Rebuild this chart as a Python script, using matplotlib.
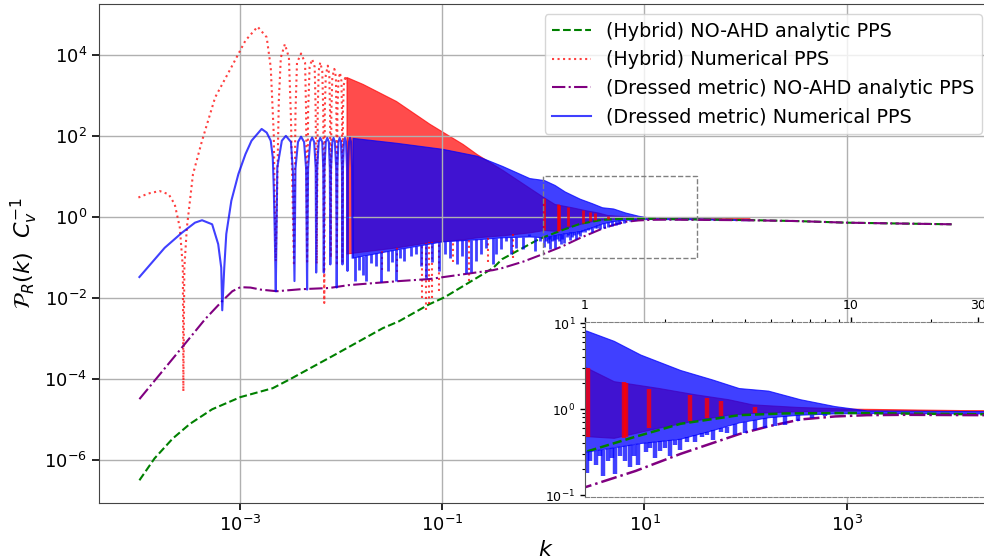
import numpy as np
import matplotlib.pyplot as plt
from matplotlib.patches import Rectangle
from matplotlib.ticker import NullLocator, LogLocator, FixedFormatter

# all values are log10(k), log10(P)

# (Hybrid) NO-AHD analytic PPS
green_logk = [-4.0, -3.85, -3.67, -3.5, -3.28, -3.0, -2.68, -2.51, -2.09, -1.59, -1.43, -1.13, -0.98,
              -0.5, -0.41, -0.07, 0.0, 0.18, 0.36, 0.58, 0.75, 1.0, 1.5, 2.0, 2.5, 3.0, 3.5, 4.04]
green_logp = [-6.49, -5.95, -5.46, -5.1, -4.74, -4.44, -4.22, -4.0, -3.43, -2.74, -2.57, -2.15, -1.98,
              -1.26, -1.04, -0.58, -0.5, -0.33, -0.17, -0.07, -0.05, -0.045, -0.06, -0.075, -0.1, -0.14, -0.16, -0.18]

# (Dressed metric) NO-AHD analytic PPS
purple_logk = [-4.0, -3.57, -3.35, -3.18, -3.08, -3.0, -2.9, -2.8, -2.64, -2.4, -2.12, -1.93, -1.43, -1.13,
               -0.5, -0.41, -0.2, 0.0, 0.19, 0.36, 0.58, 0.69, 0.81, 0.94, 1.06, 1.2, 1.5, 2.0, 2.5, 3.0, 3.5, 4.04]
purple_logp = [-4.49, -3.19, -2.52, -2.07, -1.83, -1.73, -1.74, -1.79, -1.83, -1.78, -1.75, -1.68, -1.58, -1.53,
               -1.31, -1.26, -1.1, -0.91, -0.72, -0.52, -0.29, -0.2, -0.12, -0.085, -0.07, -0.066, -0.07, -0.08, -0.1, -0.14, -0.16, -0.18]

# (Hybrid) Numerical PPS: resolved lobes at low k
red_lobe_logk = [-4.01, -3.91, -3.80, -3.71, -3.65, -3.60, -3.57, -3.565, -3.555, -3.53, -3.47, -3.38, -3.25,
                 -3.09, -2.95, -2.83, -2.74, -2.70, -2.67, -2.66, -2.65,
                 -2.62, -2.60, -2.56, -2.52, -2.50, -2.47,
                 -2.455, -2.44, -2.40, -2.36, -2.35, -2.34,
                 -2.33, -2.315, -2.29, -2.265, -2.255, -2.245,
                 -2.235, -2.225, -2.21, -2.19, -2.18, -2.17,
                 -2.165, -2.155, -2.135, -2.12, -2.113, -2.105,
                 -2.10, -2.09, -2.07, -2.055, -2.05, -2.045,
                 -2.04, -2.03, -2.015, -2.0, -1.995, -1.99,
                 -1.985, -1.975, -1.96, -1.95]
red_lobe_logp = [0.48, 0.58, 0.64, 0.56, 0.31, -0.26, -1.25, -4.3, -1.25, -0.26, 1.05, 1.88, 2.95,
                 3.69, 4.35, 4.69, 4.43, 3.69, 2.04, 0.40, -1.09,
                 2.86, 3.93, 4.26, 3.93, 2.45, -1.2,
                 2.6, 3.8, 4.03, 3.8, 2.6, -1.1,
                 2.6, 3.7, 3.89, 3.7, 2.6, -1.15,
                 2.6, 3.6, 3.81, 3.6, 2.6, -2.12,
                 2.6, 3.5, 3.73, 3.5, 2.6, -1.0,
                 2.6, 3.45, 3.65, 3.45, 2.6, -1.2,
                 2.6, 3.35, 3.56, 3.35, 2.6, -1.1,
                 2.6, 3.3, 3.48, 3.3]
# dense part: upper / lower edge of the red band
red_band_logk = [-1.95, -1.79, -1.46, -1.13, -0.80, -0.66, -0.40, -0.14, 0.006, 0.11, 0.28, 0.41, 0.54, 0.63, 0.8, 1.0, 1.5, 2.04]
red_band_hi = [3.45, 3.28, 2.86, 2.30, 1.80, 1.55, 1.15, 0.72, 0.48, 0.32, 0.24, 0.17, 0.11, 0.05, 0.02, 0.0, -0.02, -0.03]
red_band_lo = [-0.9, -0.85, -0.75, -0.62, -0.55, -0.5, -0.45, -0.38, -0.32, -0.34, -0.22, -0.14, -0.07, -0.05, -0.03, -0.02, -0.025, -0.04]
red_spike_logk = [-1.60, -1.45, -1.20, -1.16, -1.13, -1.10, -1.03, -0.90, -0.74, -0.55, -0.30]
red_spike_logp = [-1.3, -1.35, -2.0, -2.3, -2.15, -2.0, -1.83, -1.1, -1.58, -1.1, -1.0]
# red streaks showing through gaps of the blue band
red_strip_logk = [0.010, 0.145, 0.155, 0.242, 0.395, 0.457, 0.51, 0.64]
red_strip_hi = [0.48, 0.32, 0.30, 0.24, 0.17, 0.13, 0.10, 0.03]
red_strip_lo = [-0.32, -0.34, -0.33, -0.22, -0.14, -0.10, -0.08, -0.05]

# (Dressed metric) Numerical PPS: resolved lobes at low k
blue_lobe_logk = [-4.0, -3.75, -3.58, -3.45, -3.38, -3.28, -3.22, -3.19, -3.18, -3.16, -3.14, -3.09, -3.02,
                  -2.95, -2.89, -2.79, -2.74, -2.70, -2.68, -2.67, -2.66, -2.65,
                  -2.635, -2.59, -2.55, -2.50, -2.48, -2.465,
                  -2.455, -2.43, -2.40, -2.37, -2.35, -2.34,
                  -2.33, -2.31, -2.29, -2.27, -2.255, -2.25,
                  -2.24, -2.225, -2.21, -2.19, -2.18, -2.175,
                  -2.168, -2.155, -2.14, -2.125, -2.115, -2.11,
                  -2.103, -2.09, -2.078, -2.065, -2.052, -2.047,
                  -2.04, -2.03, -2.018, -2.005, -1.995, -1.99,
                  -1.985, -1.975, -1.965, -1.955, -1.945, -1.94,
                  -1.935, -1.925, -1.915, -1.905, -1.895, -1.89]
blue_lobe_logp = [-1.48, -0.76, -0.39, -0.14, -0.08, -0.18, -0.67, -1.25, -2.3, -1.25, -0.42, 0.40, 1.06,
                  1.55, 1.88, 2.17, 2.08, 1.88, 1.47, 0.72, -0.43, -1.83,
                  1.22, 1.88, 2.0, 1.85, 1.1, -1.58,
                  1.2, 1.85, 1.98, 1.85, 1.2, -1.79,
                  1.2, 1.85, 1.96, 1.85, 1.2, -1.37,
                  1.2, 1.85, 1.95, 1.85, 1.2, -1.37,
                  1.2, 1.85, 1.95, 1.85, 1.2, -1.17,
                  1.2, 1.85, 1.95, 1.85, 1.2, -1.74,
                  1.2, 1.85, 1.95, 1.85, 1.2, -1.17,
                  1.2, 1.85, 1.95, 1.85, 1.2, -1.33,
                  1.2, 1.85, 1.95, 1.85, 1.2, -1.0]
blue_band_logk = [-1.89, -1.46, -1.0, -0.66, -0.41, -0.14, 0.006, 0.11, 0.21, 0.36, 0.48, 0.58, 0.69, 0.81, 0.94, 1.06, 1.5, 2.04]
blue_band_hi = [1.95, 1.83, 1.68, 1.51, 1.26, 0.96, 0.91, 0.79, 0.63, 0.45, 0.34, 0.24, 0.21, 0.11, 0.03, -0.02, -0.03, -0.06]
blue_band_lo = [-1.0, -0.8, -0.6, -0.55, -0.5, -0.48, -0.5, -0.45, -0.4, -0.35, -0.25, -0.16, -0.1, -0.07, -0.055, -0.05, -0.055, -0.08]
blue_spike_logk = [-1.87, -1.83, -1.79, -1.76, -1.71, -1.66, -1.61, -1.54, -1.50, -1.46, -1.42, -1.38, -1.31,
                   -1.26, -1.21, -1.16, -1.10, -1.03, -0.97, -0.93, -0.86, -0.81, -0.77, -0.72, -0.67, -0.62,
                   -0.57, -0.50, -0.47, -0.42, -0.37, -0.32, -0.27, -0.20, -0.14, -0.08, -0.03,
                   0.0065, 0.02, 0.041, 0.055, 0.066, 0.085, 0.100, 0.113, 0.13, 0.15, 0.169, 0.185, 0.200,
                   0.23, 0.245, 0.263, 0.282, 0.30, 0.320, 0.34, 0.357, 0.385, 0.414, 0.44, 0.46,
                   0.482, 0.51, 0.533, 0.564, 0.600, 0.639, 0.677, 0.714, 0.752, 0.800, 0.853, 0.902]
blue_spike_logp = [-1.58, -1.3, -1.42, -1.58, -1.13, -1.2, -1.6, -1.33, -1.1, -1.58, -1.0, -1.09, -0.95,
                   -0.92, -1.2, -1.5, -1.1, -1.33, -0.9, -1.0, -1.15, -0.95, -1.38, -1.36, -1.09, -0.9,
                   -0.76, -1.17, -0.92, -0.8, -0.59, -0.9, -0.76, -0.8, -0.43, -0.85, -0.6,
                   -0.74, -0.6, -0.65, -0.55, -0.78, -0.6, -0.57, -0.76, -0.55, -0.6, -0.67, -0.55, -0.65,
                   -0.5, -0.45, -0.57, -0.49, -0.45, -0.55, -0.42, -0.47, -0.38, -0.38, -0.32, -0.3,
                   -0.36, -0.27, -0.28, -0.30, -0.28, -0.24, -0.22, -0.20, -0.18, -0.14, -0.10, -0.08]

labels = ['(Hybrid) NO-AHD analytic PPS', '(Hybrid) Numerical PPS',
          '(Dressed metric) NO-AHD analytic PPS', '(Dressed metric) Numerical PPS']


def p(v):
    return 10.0 ** np.asarray(v)


def draw(ax, lw, spike_lw):
    ax.plot(p(green_logk), p(green_logp), '--', color='green', lw=lw, label=labels[0])

    ax.plot(p(red_lobe_logk), p(red_lobe_logp), ':', color='red', alpha=0.75, lw=lw, label=labels[1])
    ax.fill_between(p(red_band_logk), p(red_band_lo), p(red_band_hi), color='red', alpha=0.7, lw=0.8)
    top = np.interp(red_spike_logk, red_band_logk, red_band_lo)
    ax.vlines(p(red_spike_logk), p(red_spike_logp), p(top), color='red', alpha=0.75, lw=lw, linestyles=':')

    ax.plot(p(purple_logk), p(purple_logp), '-.', color='purple', lw=lw, label=labels[2])

    ax.plot(p(blue_lobe_logk), p(blue_lobe_logp), '-', color='blue', alpha=0.75, lw=lw, label=labels[3])
    ax.fill_between(p(blue_band_logk), p(blue_band_lo), p(blue_band_hi), color='blue', alpha=0.75, lw=0.8)
    top = np.interp(blue_spike_logk, blue_band_logk, blue_band_lo)
    ax.vlines(p(blue_spike_logk), p(blue_spike_logp), p(top), color='blue', alpha=0.75, lw=spike_lw)

    ax.vlines(p(red_strip_logk), p(red_strip_lo), p(red_strip_hi), color='red', alpha=0.8, lw=spike_lw)


fig = plt.figure(figsize=(9.84, 5.6), dpi=100)
ax = fig.add_axes([99 / 984, 57 / 560, 893 / 984, 499 / 560])
draw(ax, 1.5, 2.0)
ax.set_xscale('log')
ax.set_yscale('log')
ax.set_xlim(10 ** -4.4, 10 ** 4.44)
ax.set_ylim(10 ** -7.05, 10 ** 5.25)
ax.set_xticks([1e-3, 1e-1, 1e1, 1e3])
ax.set_yticks([1e-6, 1e-4, 1e-2, 1e0, 1e2, 1e4])
ax.xaxis.set_minor_locator(NullLocator())
ax.yaxis.set_minor_locator(NullLocator())
ax.tick_params(labelsize=13, width=1.2, length=5)
ax.grid(True, color='#b0b0b0', lw=1)
for s in ax.spines.values():
    s.set_color('#444444')
ax.set_xlabel(r'$k$', fontsize=16)
ax.set_ylabel(r'$\mathcal{P}_R(k)\ \ C_v^{-1}$', fontsize=16, labelpad=3)

# zoomed region marker
ax.add_patch(Rectangle((1, 0.1), 32, 9.9, fill=False, ec='gray', ls='--', lw=1, zorder=5))

ax.legend(loc='upper right', bbox_to_anchor=(982 / 984, 1 - 14 / 560), bbox_transform=fig.transFigure,
          borderaxespad=0, fontsize=13.8, framealpha=0.8)

# inset
ax2 = fig.add_axes([585 / 984, 63 / 560, 404 / 984, 175 / 560])
draw(ax2, 1.8, 3.2)
ax2.set_xscale('log')
ax2.set_yscale('log')
ax2.set_xlim(1, 33)
ax2.set_ylim(0.0948, 10.35)
ax2.xaxis.tick_top()
ax2.set_xticks([1, 10, 30])
ax2.xaxis.set_major_formatter(FixedFormatter(['1', '10', '30']))
ax2.xaxis.set_minor_locator(LogLocator(subs=np.arange(2, 10)))
ax2.xaxis.set_minor_formatter(FixedFormatter([]))
ax2.set_yticks([0.1, 1, 10])
ax2.tick_params(labelsize=9, length=3.5, width=1)
ax2.tick_params(which='minor', length=2, width=0.8)
for side in ['top', 'bottom', 'right']:
    ax2.spines[side].set_linestyle('--')
    ax2.spines[side].set_color('gray')
ax2.spines['left'].set_color('#555555')

fig.savefig('out.png', dpi=100)
